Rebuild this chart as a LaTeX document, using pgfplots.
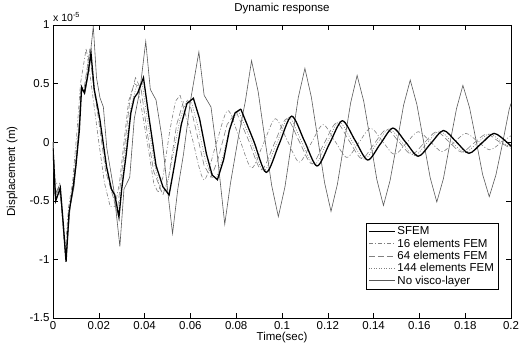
\documentclass[border=0pt]{standalone}
\usepackage{pgfplots}
\pgfplotsset{compat=1.18}
\usepackage{fontspec}
\setmainfont{Liberation Sans}
\definecolor{novisco}{gray}{0.35}
\definecolor{femgray}{gray}{0.5}
\tikzset{
  sfem/.style={black, line width=1.3pt},
  fem16/.style={femgray, line width=0.6pt, dash pattern=on 4pt off 2pt on 1pt off 2pt},
  fem64/.style={femgray, line width=0.6pt, dash pattern=on 6pt off 3pt},
  fem144/.style={femgray, line width=0.6pt, dash pattern=on 1pt off 1.5pt},
  novis/.style={novisco, line width=0.6pt},
}
\begin{document}
\begin{tikzpicture}
\path[use as bounding box] (-53pt,-26pt) rectangle (468pt,318pt);
\begin{axis}[
  name=ax, at={(0,0)}, anchor=south west,
  width=458pt, height=293pt, scale only axis,
  xmin=0, xmax=0.2, ymin=-1.5, ymax=1,
  xtick={0,0.02,0.04,0.06,0.08,0.1,0.12,0.14,0.16,0.18,0.2},
  xticklabels={0,0.02,0.04,0.06,0.08,0.1,0.12,0.14,0.16,0.18,0.2},
  ytick={-1.5,-1,-0.5,0,0.5,1},
  yticklabels={-1.5,-1,-0.5,0,0.5,1},
  tick align=inside, major tick length=5pt,
  tick style={black, line width=0.5pt},
  axis line style={line width=0.6pt},
  font=\fontsize{11.5}{13}\selectfont,
  ticklabel style={font=\fontsize{11.5}{13}\selectfont},
  title={Dynamic response},
  title style={at={(axis description cs:0.5,1)}, anchor=south, yshift=2pt},
  xlabel={Time(sec)},
  xlabel style={at={(axis description cs:0.5,-0.038)}, anchor=north},
  ylabel={Displacement (m)},
  ylabel style={at={(axis description cs:-0.07,0.5)}, anchor=south},
  legend style={at={(0.972,0.096)}, anchor=south east, draw=black, fill=white,
    font=\fontsize{11.5}{13}\selectfont, inner sep=2pt, row sep=-1.5pt},
  legend cell align=left,
  legend image code/.code={\draw[#1] (0pt,0pt) -- (26pt,0pt);},
]
% ---------- No visco-layer ----------
\addplot[novis, forget plot] coordinates {
(0,0) (0.0008,-0.45) (0.0025,-0.38) (0.0035,-0.5) (0.0057,-1.0) (0.0075,-0.55)
(0.0092,-0.38) (0.0105,-0.1) (0.0125,0.45) (0.0140,0.42) (0.0155,0.6) (0.0176,0.99)
(0.0190,0.55) (0.0205,0.38) (0.0220,0.30) (0.0235,-0.05) (0.0265,-0.4) (0.0292,-0.89)
(0.0310,-0.4) (0.0335,-0.30) (0.0355,0.2) (0.0380,0.45) (0.0405,0.86) (0.0425,0.45)
(0.0450,0.36) (0.0475,0.05) (0.0500,-0.4) (0.0522,-0.78) (0.0545,-0.4) (0.0570,-0.1)
(0.0600,0.35) (0.0637,0.77) (0.0660,0.4) (0.0690,0.30) (0.0720,-0.15) (0.0750,-0.70)
(0.0775,-0.35) (0.0810,0.05) (0.0840,0.35) (0.0867,0.695)
(0.0896,0.43) (0.0925,0.03) (0.0955,-0.37) (0.0984,-0.635)
(0.1013,-0.38) (0.1042,0.0) (0.1071,0.38) (0.1100,0.63)
(0.1128,0.386) (0.1157,0.02) (0.1186,-0.346) (0.1214,-0.59)
(0.1242,-0.358) (0.1271,-0.01) (0.1300,0.338) (0.1328,0.57)
(0.1357,0.348) (0.1386,0.015) (0.1414,-0.318) (0.1443,-0.54)
(0.1472,-0.326) (0.1502,-0.005) (0.1531,0.316) (0.1560,0.53)
(0.1589,0.322) (0.1618,0.01) (0.1647,-0.302) (0.1676,-0.51)
(0.1705,-0.31) (0.1733,-0.012) (0.1762,0.286) (0.1790,0.485)
(0.1819,0.295) (0.1848,0.01) (0.1876,-0.275) (0.1905,-0.465)
(0.1934,-0.28) (0.1963,-0.01) (0.1992,0.28) (0.2,0.33)
};
% ---------- 16 elements FEM ----------
\addplot[fem16, forget plot] coordinates {
(0,0) (0.001,-0.35) (0.003,-0.35) (0.0052,-0.95) (0.0068,-0.55) (0.0085,-0.35)
(0.0105,0.1) (0.0120,0.5) (0.0145,0.80) (0.0160,0.6) (0.0180,0.3) (0.0200,0.0)
(0.0225,-0.35) (0.0250,-0.55) (0.0270,-0.55) (0.0290,-0.35) (0.0310,0.0) (0.0330,0.35)
(0.0355,0.5) (0.0370,0.48) (0.0390,0.25) (0.0420,-0.1) (0.0440,-0.35) (0.0459,-0.43)
(0.0480,-0.3) (0.0510,0.1) (0.0535,0.35) (0.0555,0.40)
};
\addplot[fem16, smooth, forget plot] coordinates {
(0.0555,0.40) (0.0607,0.04) (0.0659,-0.32) (0.0711,-0.025) (0.0763,0.27) (0.0815,0.025)
(0.0867,-0.22) (0.0919,-0.01) (0.0971,0.20) (0.1023,0.015) (0.1075,-0.17) (0.1127,-0.01)
(0.1179,0.15) (0.1231,0.01) (0.1283,-0.13) (0.1335,-0.005) (0.1387,0.12) (0.1439,0.007)
(0.1491,-0.105) (0.1543,-0.007) (0.1595,0.09) (0.1647,0.005) (0.1699,-0.08) (0.1751,-0.002)
(0.1803,0.075) (0.1855,0.005) (0.1907,-0.065) (0.1959,0) (0.2,0.055)
};
% ---------- 64 elements FEM ----------
\addplot[fem64, forget plot] coordinates {
(0,0) (0.0010,-0.45) (0.0030,-0.38) (0.0055,-0.98) (0.0070,-0.6) (0.0088,-0.35)
(0.0112,0.1) (0.0122,0.45) (0.0135,0.45) (0.0160,0.78) (0.0175,0.5) (0.0195,0.25)
(0.0230,-0.25) (0.0260,-0.45) (0.0280,-0.6) (0.0295,-0.35) (0.0315,0.0) (0.0335,0.35)
(0.0360,0.55) (0.0385,0.45) (0.0410,0.1) (0.0440,-0.25) (0.0480,-0.45) (0.0505,-0.3)
(0.0540,0.15) (0.0570,0.35) (0.0595,0.35) (0.0625,0.1) (0.0660,-0.2) (0.0690,-0.30)
(0.0720,-0.15) (0.0760,0.15) (0.0800,0.26)
};
\addplot[fem64, smooth, forget plot] coordinates {
(0.0800,0.26) (0.0855,0.012) (0.0910,-0.235) (0.0965,-0.018) (0.1020,0.20) (0.1075,0.008)
(0.1130,-0.185) (0.1184,-0.01) (0.1238,0.165) (0.1293,0.012) (0.1348,-0.14) (0.1402,-0.015)
(0.1457,0.11) (0.1511,0.002) (0.1566,-0.105) (0.1620,-0.008) (0.1675,0.09) (0.1730,0.002)
(0.1784,-0.085) (0.1838,-0.008) (0.1893,0.07) (0.1947,0.005) (0.2,-0.055)
};
% ---------- 144 elements FEM ----------
\addplot[fem144, forget plot] coordinates {
(0,-0.02) (0.0011,-0.48) (0.0031,-0.36) (0.0056,-1.0) (0.0072,-0.58) (0.0090,-0.36)
(0.0113,0.1) (0.0124,0.48) (0.0138,0.45) (0.0162,0.8) (0.0178,0.48) (0.0200,0.25)
(0.0232,-0.22) (0.0262,-0.45) (0.0284,-0.62) (0.0298,-0.4) (0.0318,-0.05) (0.0340,0.3)
(0.0365,0.48) (0.0390,0.5) (0.0415,0.15) (0.0445,-0.2) (0.0470,-0.42) (0.0495,-0.4)
(0.0525,-0.1) (0.0555,0.2) (0.0585,0.36) (0.0605,0.34) (0.0635,0.12) (0.0665,-0.15)
(0.0695,-0.3) (0.0715,-0.30) (0.0745,-0.1) (0.0775,0.15) (0.0810,0.27)
};
\addplot[fem144, smooth, forget plot] coordinates {
(0.0810,0.27) (0.0865,0.012) (0.0920,-0.245) (0.0975,-0.018) (0.1030,0.21) (0.1085,0.008)
(0.1140,-0.193) (0.1195,-0.01) (0.1249,0.174) (0.1304,0.015) (0.1359,-0.145) (0.1413,-0.015)
(0.1468,0.114) (0.1523,0) (0.1578,-0.114) (0.1632,-0.01) (0.1687,0.095) (0.1742,0.003)
(0.1797,-0.09) (0.1851,-0.01) (0.1906,0.071) (0.1961,0.0) (0.2,-0.045)
};
% ---------- SFEM ----------
\addplot[sfem, forget plot] coordinates {
(0,-0.05) (0.0012,-0.50) (0.0032,-0.39) (0.0045,-0.7) (0.0057,-1.02) (0.0070,-0.6)
(0.0089,-0.37) (0.0100,-0.2) (0.0115,0.1) (0.0125,0.47) (0.0137,0.42) (0.0150,0.55)
(0.0166,0.76) (0.0180,0.45) (0.0195,0.3) (0.0205,0.19) (0.0234,-0.21) (0.0255,-0.40)
(0.0270,-0.45) (0.0288,-0.64) (0.0300,-0.4) (0.0320,-0.1) (0.0340,0.25) (0.0355,0.38)
(0.0370,0.42) (0.0395,0.55) (0.0420,0.2) (0.0450,-0.2) (0.0480,-0.38) (0.0507,-0.45)
(0.0530,-0.2) (0.0560,0.15) (0.0585,0.33) (0.0613,0.375) (0.0640,0.2) (0.0670,-0.1)
(0.0695,-0.28) (0.0718,-0.32) (0.0745,-0.15) (0.0770,0.1) (0.0795,0.25) (0.0820,0.283)
};
\addplot[sfem, smooth, forget plot] coordinates {
(0.0820,0.283) (0.0876,0.013) (0.0931,-0.257) (0.0987,-0.018) (0.1042,0.222) (0.1098,0.01)
(0.1153,-0.203) (0.1208,-0.01) (0.1263,0.183) (0.1319,0.016) (0.1374,-0.152) (0.1429,-0.016)
(0.1484,0.12) (0.1540,0) (0.1595,-0.12) (0.1650,-0.01) (0.1705,0.10) (0.1761,0.003)
(0.1816,-0.095) (0.1871,-0.01) (0.1926,0.075) (0.1982,0.0) (0.2,-0.035)
};
\addlegendimage{sfem}\addlegendentry{SFEM}
\addlegendimage{fem16}\addlegendentry{16 elements FEM}
\addlegendimage{fem64}\addlegendentry{64 elements FEM}
\addlegendimage{fem144}\addlegendentry{144 elements FEM}
\addlegendimage{novis}\addlegendentry{No visco-layer}
\end{axis}
\node[anchor=south west, inner sep=0pt, font=\fontsize{10.5}{12}\selectfont] at ([yshift=3pt]ax.north west) {x 10\textsuperscript{-5}};
\end{tikzpicture}
\end{document}
